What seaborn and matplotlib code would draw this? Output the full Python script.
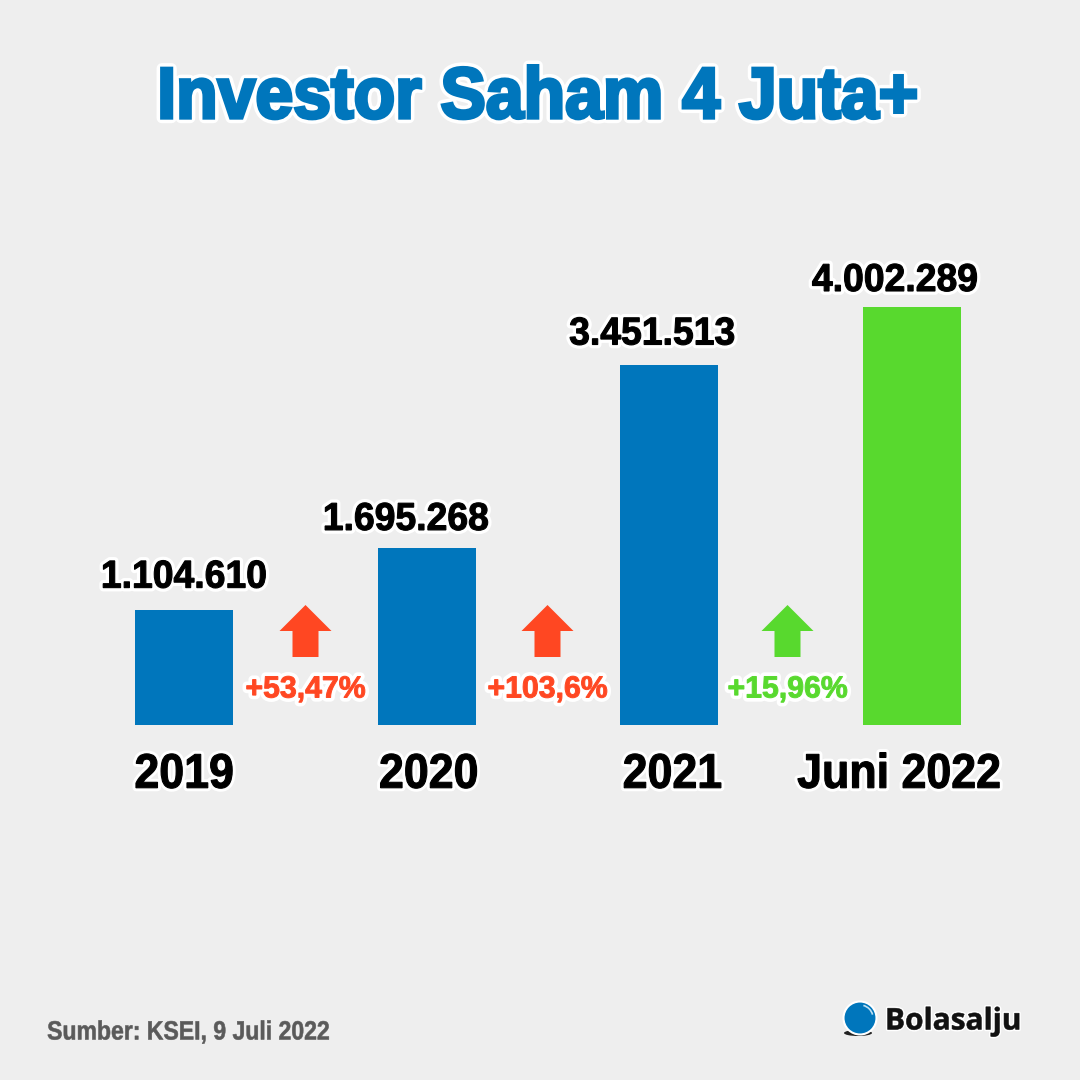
import matplotlib
matplotlib.use("Agg")
import matplotlib.pyplot as plt
import matplotlib.patheffects as pe
from matplotlib.patches import Polygon, Circle, Arc, Ellipse
from matplotlib.transforms import Affine2D
import seaborn as sns
import pandas as pd

categories = ["2019", "2020", "2021", "Juni 2022"]
values = [1104610, 1695268, 3451513, 4002289]
value_labels = ["1.104.610", "1.695.268", "3.451.513", "4.002.289"]
growth_labels = ["+53,47%", "+103,6%", "+15,96%"]
title = "Investor Saham 4 Juta+"
source = "Sumber: KSEI, 9 Juli 2022"
brand = "Bolasalju"

BG = "#EEEEEE"
BLUE = "#0076BC"
GREEN = "#58D92E"
RED = "#FF4722"
bar_colors = [BLUE, BLUE, BLUE, GREEN]
growth_colors = [RED, RED, GREEN]

sns.set_theme(style="white")
SANS = ["Liberation Sans", "DejaVu Sans"]
plt.rcParams["font.family"] = SANS


class Condensed(pe.AbstractPathEffect):
    """Draw live text narrower (no condensed face is installed), with halo and extra weight."""

    def __init__(self, sx=1.0, halo=0.0, bold=0.0, anchor="center", dx=0.0):
        super().__init__()
        self.sx, self.halo, self.bold, self.anchor, self.dx = sx, halo, bold, anchor, dx

    def draw_path(self, renderer, gc, tpath, affine, rgbFace=None):
        bb = tpath.get_extents()
        cx = bb.x0 if self.anchor == "left" else 0.5 * (bb.x0 + bb.x1)
        aff = (Affine2D().translate(-cx, 0).scale(self.sx, 1).translate(cx, 0)
               + affine + Affine2D().translate(self.dx, 0))
        if self.halo:
            g = renderer.new_gc()
            g.copy_properties(gc)
            g.set_foreground("white")
            g.set_linewidth(self.halo)
            g.set_joinstyle("round")
            renderer.draw_path(g, tpath, aff, (1, 1, 1, 1))
            g.restore()
        if self.bold:
            g = renderer.new_gc()
            g.copy_properties(gc)
            g.set_foreground(rgbFace)
            g.set_linewidth(self.bold)
            g.set_joinstyle("miter")
            renderer.draw_path(g, tpath, aff, rgbFace)
            g.restore()
        else:
            renderer.draw_path(gc, tpath, aff, rgbFace)


fig = plt.figure(figsize=(10.8, 10.8), dpi=100, facecolor=BG)
W = H = 1080.0

left, right, bottom, top = 62.7, 1033.3, 725.0, 200.0
ax = fig.add_axes([left / W, 1 - bottom / H, (right - left) / W, (bottom - top) / H])
ax.set_facecolor("none")
df = pd.DataFrame({"cat": categories, "val": values})
sns.barplot(data=df, x="cat", y="val", hue="cat", palette=bar_colors, legend=False,
            width=0.404, saturation=1, linewidth=0, ax=ax)
ax.set_xlim(-0.5, 3.5)
ax.set_ylim(0, max(values) * (bottom - top) / 418.0)
for s in ax.spines.values():
    s.set_visible(False)
ax.set_xlabel("")
ax.set_ylabel("")
ax.set_yticks([])
ax.tick_params(axis="x", length=0, pad=20)
tick_dx = [0, 2, 3, -13]
for lab, dx in zip(ax.get_xticklabels(), tick_dx):
    lab.set_fontsize(35)
    lab.set_fontweight("bold")
    lab.set_color("black")
    lab.set_family(SANS)
    lab.set_path_effects([Condensed(sx=0.92, halo=5, bold=0.8, dx=dx)])

label_dx = [0, -21, -17, -17]
label_dy = [32, 28, 30, 26]
for i, (v, t) in enumerate(zip(values, value_labels)):
    ax.annotate(t, (i, v), xytext=(label_dx[i], label_dy[i]), textcoords="offset pixels",
                ha="center", va="center", fontsize=28, fontweight="bold", color="black",
                path_effects=[Condensed(sx=0.96, halo=5.5, bold=0.8)])

ov = fig.add_axes([0, 0, 1, 1], facecolor="none")
ov.set_xlim(0, W)
ov.set_ylim(H, 0)
ov.axis("off")

ov.text(538, 118, title, ha="center", va="baseline", fontsize=52, fontweight="bold",
        color=BLUE, path_effects=[Condensed(sx=0.941, halo=7.5, bold=2.4)])

arrow_x = [305.5, 547.5, 787.5]
for x, lab, c in zip(arrow_x, growth_labels, growth_colors):
    ov.add_patch(Polygon([(x, 605), (x + 26, 631), (x + 13, 631), (x + 13, 657),
                          (x - 13, 657), (x - 13, 631), (x - 26, 631)], closed=True,
                         facecolor=c, edgecolor="none"))
    ov.text(x, 686, lab, ha="center", va="center_baseline", fontsize=22, fontweight="bold",
            color=c, path_effects=[Condensed(sx=0.99, halo=6, bold=0.7)])

ov.text(47, 1030, source, ha="left", va="center_baseline", fontsize=19, fontweight="bold",
        color="#5A5A5A", path_effects=[Condensed(sx=0.872, bold=0.4, anchor="left")])

ov.add_patch(Ellipse((858, 1033), 28, 6, facecolor="#222222", edgecolor="none"))
ov.add_patch(Circle((860, 1018), 16.5, facecolor=BLUE, edgecolor="white", linewidth=1.5))
ov.add_patch(Arc((860, 1018), 26, 26, theta1=-75, theta2=-15, color="#BFE0F2", linewidth=1.2))
ov.text(885, 1018, brand, ha="left", va="center_baseline", fontsize=21.5, fontweight="bold",
        color="#111111", family=["Open Sans", "DejaVu Sans"],
        path_effects=[Condensed(sx=1.0, halo=2.5, bold=0.4, anchor="left")])

fig.savefig("out.png", dpi=100, facecolor=BG)
